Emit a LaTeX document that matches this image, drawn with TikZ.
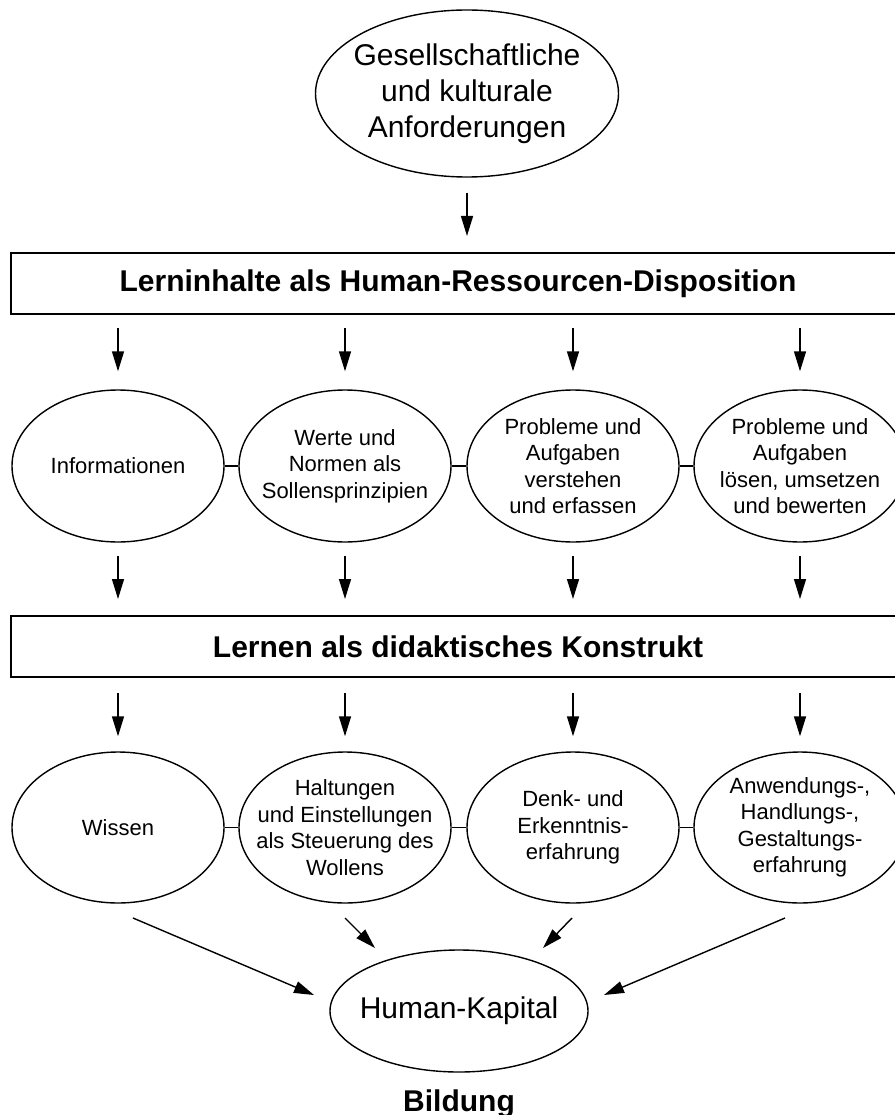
\documentclass[tikz,border=0pt]{standalone}
\usepackage{fontspec}
\setmainfont{Liberation Sans}
\usetikzlibrary{arrows.meta,shapes.geometric,calc}
\begin{document}
\begin{tikzpicture}[x=1pt,y=-1pt,
  oval/.style={draw, ellipse, line width=1.4pt, inner sep=0pt},
  rowoval/.style={oval, minimum width=212pt, minimum height=152pt},
  banner/.style={draw, line width=2pt, inner sep=0pt, minimum width=894pt,
    minimum height=61pt, font=\bfseries\fontsize{30}{36}\selectfont},
  smalltext/.style={align=center, inner sep=0pt, font=\fontsize{22}{26.5}\selectfont},
  bigtext/.style={align=center, inner sep=0pt, font=\fontsize{30}{36}\selectfont},
  arr/.style={line width=1.4pt, -{Triangle[length=20pt,width=12pt]}},
  link/.style={line width=1.4pt}]
\useasboundingbox (0,0) rectangle (894,1115);

% source of the demands
\node[oval, minimum width=303pt, minimum height=167pt] (top) at (467,93.5) {};
\node[bigtext] (toptext) at (top) {Gesellschaftliche\\und kulturale\\Anforderungen};

% first banner
\node[banner] (b1) at (458,283.5) {Lerninhalte als Human-Ressourcen-Disposition};

% learning contents
\node[rowoval] (e1) at (118,466) {};
\node[rowoval] (e2) at (345,466) {};
\node[rowoval] (e3) at (573,466) {};
\node[rowoval] (e4) at (800,466) {};
\node[smalltext] (t1) at (e1) {Informationen};
\node[smalltext] (t2) at (e2) {Werte und\\Normen als\\Sollensprinzipien};
\node[smalltext] (t3) at (e3) {Probleme und\\Aufgaben\\verstehen\\und erfassen};
\node[smalltext] (t4) at (e4) {Probleme und\\Aufgaben\\lösen, umsetzen\\und bewerten};

% second banner
\node[banner] (b2) at (458,646.5) {Lernen als didaktisches Konstrukt};

% learning outcomes
\node[rowoval, minimum height=151pt] (f1) at (118,827.5) {};
\node[rowoval, minimum height=151pt] (f2) at (345,827.5) {};
\node[rowoval, minimum height=151pt] (f3) at (573,827.5) {};
\node[rowoval, minimum height=151pt] (f4) at (800,827.5) {};
\node[smalltext] (u1) at (f1) {Wissen};
\node[smalltext] (u2) at (f2) {Haltungen\\und Einstellungen\\als Steuerung des\\Wollens};
\node[smalltext] (u3) at (f3) {Denk- und\\Erkenntnis-\\erfahrung};
\node[smalltext] (u4) at (f4) {Anwendungs-,\\Handlungs-,\\Gestaltungs-\\erfahrung};

% result
\node[oval, minimum width=258pt, minimum height=122pt] (hk) at (459,1011) {};
\node[bigtext] (hktext) at (hk) {Human-Kapital};
\node[anchor=base, inner sep=0pt, font=\bfseries\fontsize{30}{36}\selectfont] (bildung) at (459,1111) {Bildung};

% vertical flow
\draw[arr] ($(top.south)+(0,15)$) -- ($(b1.north -| top.south)+(0,-16)$);
\foreach \e in {e1,e2,e3,e4}{
  \draw[arr] ($(b1.south -| \e)+(0,13)$) -- ($(\e.north)+(0,-18)$);
  \draw[arr] ($(\e.south)+(0,13)$) -- ($(b2.north -| \e)+(0,-16)$);
}
\foreach \f in {f1,f2,f3,f4}{
  \draw[arr] ($(b2.south -| \f)+(0,15)$) -- ($(\f.north)+(0,-15)$);
}

% side links within each row
\draw[link] (e1.east) -- (e2.west);
\draw[link] (e2.east) -- (e3.west);
\draw[link] (e3.east) -- (e4.west);
\draw[link] (f1.east) -- (f2.west);
\draw[link] (f2.east) -- (f3.west);
\draw[link] (f3.east) -- (f4.west);

% converging arrows
\coordinate (d1s) at (133,918);
\coordinate (d1e) at (314,995);
\coordinate (d2s) at (345,918);
\coordinate (d2e) at (375,948);
\coordinate (d3s) at (572,918);
\coordinate (d3e) at (543,948);
\coordinate (d4s) at (785,918);
\coordinate (d4e) at (604,995);
\draw[arr] (d1s) -- (d1e);
\draw[arr] (d2s) -- (d2e);
\draw[arr] (d3s) -- (d3e);
\draw[arr] (d4s) -- (d4e);
\end{tikzpicture}
\end{document}
